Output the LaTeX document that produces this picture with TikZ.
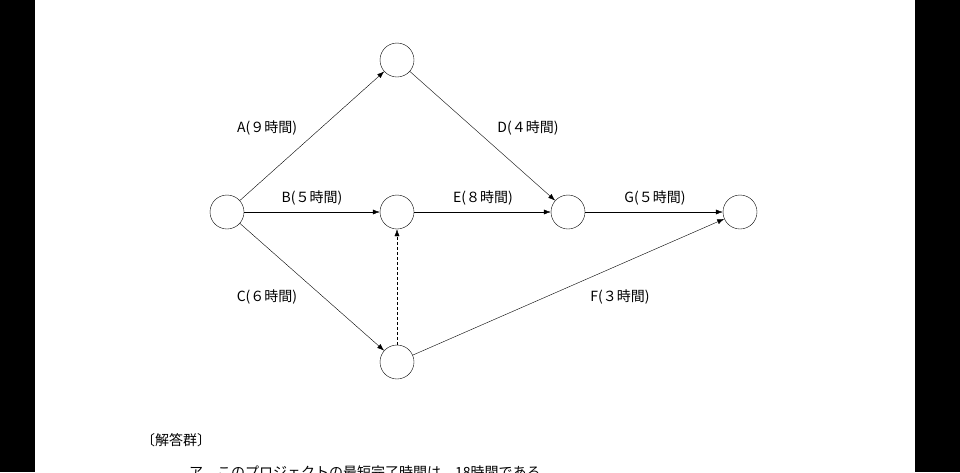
\documentclass[tikz,border=0pt]{standalone}
\usepackage{fontspec}
\setmainfont{Noto Sans CJK JP}
\usetikzlibrary{arrows.meta}
\begin{document}
\begin{tikzpicture}[x=1pt, y=-1pt,
  event/.style={circle, draw, thin, minimum size=34pt, inner sep=0pt},
  act/.style={-{Latex[length=7pt,width=5pt]}, thin},
  lbl/.style={font=\fontsize{14pt}{16pt}\selectfont, inner sep=1pt}]

\useasboundingbox (0,0) rectangle (960,472);
\fill[black] (0,0) rectangle (35,472);
\fill[black] (915,0) rectangle (960,472);

\node[event] (start) at (227,212) {};
\node[event] (top) at (397,60) {};
\node[event] (mid) at (397,212) {};
\node[event] (join) at (568,212) {};
\node[event] (end) at (740,212) {};
\node[event] (low) at (397,362) {};

\draw[act] (start) -- (top);
\draw[act] (start) -- (mid);
\draw[act] (start) -- (low);
\draw[act] (top) -- (join);
\draw[act] (mid) -- (join);
\draw[act] (join) -- (end);
\draw[act] (low) -- (end);
\draw[act, densely dashed] (low) -- (mid);

\node[lbl] (la) at (267,128) {A(９時間)};
\node[lbl] (lb) at (312,198) {B(５時間)};
\node[lbl] (lc) at (267,297) {C(６時間)};
\node[lbl] (ld) at (528,128) {D(４時間)};
\node[lbl] (le) at (483,198) {E(８時間)};
\node[lbl] (lg) at (655,198) {G(５時間)};
\node[lbl] (lf) at (620,297) {F(３時間)};

\node[lbl, anchor=west] (group) at (140,440) {〔解答群〕};
\node[lbl, anchor=west] (opt) at (188,472) {ア　このプロジェクトの最短完了時間は，18時間である。};
\end{tikzpicture}
\end{document}
